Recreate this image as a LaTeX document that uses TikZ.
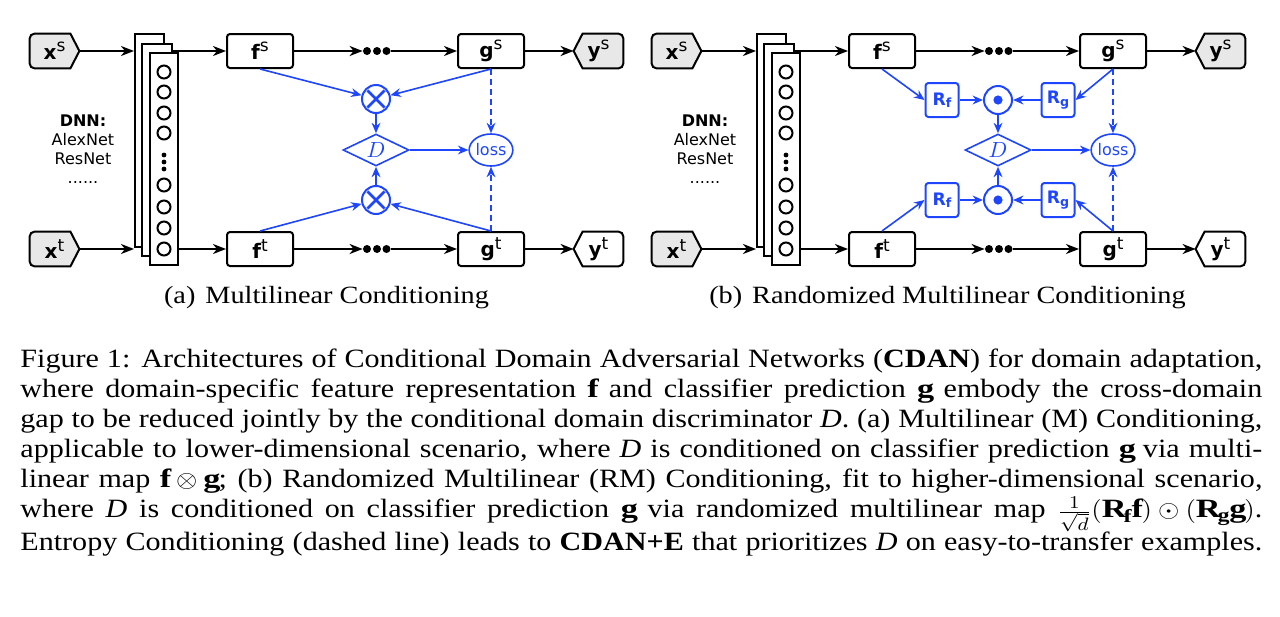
\documentclass[tikz,border=0pt]{standalone}
\usepackage{fontspec}
\setmainfont{Liberation Serif}[FakeStretch=1.14]
\newfontfamily\dv{DejaVu Sans}
\usetikzlibrary{shapes.geometric,arrows.meta,backgrounds}
\definecolor{cblue}{RGB}{30,70,255}
\definecolor{cgray}{RGB}{232,232,232}
\newcommand\mylbl[2]{{\bfseries #1}\raisebox{3.8pt}{\fontsize{8.5}{8.5}\selectfont #2}}
\newcommand\myrlbl[1]{{\bfseries R}\raisebox{-1.2pt}{\fontsize{6.3}{6.3}\selectfont\bfseries #1}}
\newcommand\mth[1]{\scalebox{1.14}[1]{$#1$}}
\begin{document}
\begin{tikzpicture}[x=0.5pt,y=-0.5pt,
  arr/.style={line width=1pt,-{Stealth[length=6.5pt,width=5pt,inset=2pt]}},
  barr/.style={cblue,line width=0.8pt,-{Stealth[length=5.2pt,width=4.4pt,inset=1.7pt]}},
  bdash/.style={barr,dash pattern=on 3pt off 2pt},
  io/.style={minimum width=24.5pt, minimum height=17pt, inner sep=0pt, font=\dv\fontsize{10}{12}\selectfont},
  ioshape/.style={draw, line width=1pt},
  box/.style={draw, rounded corners=1.5pt, line width=1pt, minimum width=33pt, minimum height=17pt, inner sep=0pt, font=\dv\fontsize{10}{12}\selectfont},
  layer/.style={draw, fill=white, line width=1pt, inner sep=0pt},
  neuron/.style={circle, draw, line width=1pt, minimum size=6.5pt, inner sep=0pt},
  sdot/.style={circle, fill, minimum size=2.4pt, inner sep=0pt},
  bdot/.style={circle, fill, minimum size=4pt, inner sep=0pt},
  mult/.style={circle, draw=cblue, line width=1pt, minimum size=14pt, inner sep=0pt},
  otimes/.style={mult, path picture={\draw[cblue,line width=1.3pt]
      ([shift={(-4.3pt,-4.3pt)}]path picture bounding box.center) -- ([shift={(4.3pt,4.3pt)}]path picture bounding box.center)
      ([shift={(-4.3pt,4.3pt)}]path picture bounding box.center) -- ([shift={(4.3pt,-4.3pt)}]path picture bounding box.center);}},
  odot/.style={mult, path picture={\fill[cblue] (path picture bounding box.center) circle[radius=2.3pt];}},
  disc/.style={diamond, draw=cblue, line width=0.8pt, minimum width=33pt, minimum height=16pt, aspect=2, inner sep=0pt, text=cblue, font=\fontsize{10.5}{10.5}\selectfont},
  lossn/.style={ellipse, draw=cblue, line width=0.8pt, minimum width=20pt, minimum height=16pt, inner sep=0pt, text=cblue, font=\dv\fontsize{8}{8}\selectfont},
  rbox/.style={draw=cblue, rounded corners=1.5pt, line width=1pt, minimum width=16.5pt, minimum height=17pt, inner sep=0pt, text=cblue, font=\dv\fontsize{8.6}{8.6}\selectfont},
  dnn/.style={align=center, font=\dv\fontsize{8}{9.5}\selectfont},
  sub/.style={font=\fontsize{12.4}{15}\selectfont}
]
\useasboundingbox (0,0) rectangle (1280,616);

\foreach \p/\dx in {a/0,b/622}{
  \node[io] (\p xs) at (\dx+54.5,51) {\mylbl{x}{s}};
  \node[io] (\p xt) at (\dx+54.5,249) {\mylbl{x}{t}};
  \node[io] (\p ys) at (\dx+598.5,51) {\mylbl{y}{s}};
  \node[io] (\p yt) at (\dx+598.5,249) {\mylbl{y}{t}};
  \begin{scope}[on background layer]
    \foreach \n in {xs,xt}
      \draw[ioshape, fill=cgray] ([xshift=-4.5pt]\p\n.north east) [rounded corners=2.5pt] -- (\p\n.north west) -- (\p\n.south west) [sharp corners] -- ([xshift=-4.5pt]\p\n.south east) -- (\p\n.east) -- cycle;
    \draw[ioshape, fill=cgray] ([xshift=4.5pt]\p ys.south west) [rounded corners=2.5pt] -- (\p ys.south east) -- (\p ys.north east) [sharp corners] -- ([xshift=4.5pt]\p ys.north west) -- (\p ys.west) -- cycle;
    \draw[ioshape, fill=white] ([xshift=4.5pt]\p yt.south west) [rounded corners=2.5pt] -- (\p yt.south east) -- (\p yt.north east) [sharp corners] -- ([xshift=4.5pt]\p yt.north west) -- (\p yt.west) -- cycle;
  \end{scope}
  \node[dnn] (\p dnn) at (\dx+83,149) {\textbf{DNN:}\\AlexNet\\ResNet\\......};
  \node[layer, minimum width=14.5pt, minimum height=106.5pt] (\p L1) at (\dx+149.5,140.5) {};
  \node[layer, minimum width=15pt, minimum height=106pt] (\p L2) at (\dx+157,150) {};
  \node[layer, minimum width=14pt, minimum height=106pt] (\p L3) at (\dx+164,159) {};
  \foreach \i/\yy in {1/72,2/92,3/113,4/133,5/185,6/207,7/228,8/249}
    \node[neuron] (\p n\i) at (\dx+164,\yy) {};
  \foreach \i/\yy in {1/155,2/162,3/169}
    \node[sdot] (\p s\i) at (\dx+164,\yy) {};
  \node[box] (\p fs) at (\dx+260,51) {\mylbl{f}{s}};
  \node[box] (\p ft) at (\dx+260,249) {\mylbl{f}{t}};
  \node[bdot] (\p da1) at (\dx+367,51) {};
  \node[bdot] (\p da2) at (\dx+377,51) {};
  \node[bdot] (\p da3) at (\dx+386.5,51) {};
  \node[bdot] (\p db1) at (\dx+367,249) {};
  \node[bdot] (\p db2) at (\dx+377,249) {};
  \node[bdot] (\p db3) at (\dx+386.5,249) {};
  \node[box] (\p gs) at (\dx+491,51) {\mylbl{g}{s}};
  \node[box] (\p gt) at (\dx+491,249) {\mylbl{g}{t}};
  \draw[arr] (\p xs.east) -- (\p xs.east -| \p L1.west);
  \draw[arr] (\p xt.east) -- (\p xt.east -| \p L1.west);
  \draw[arr] (\p fs.west -| \p L2.east) -- (\p fs.west);
  \draw[arr] (\p ft.west -| \p L3.east) -- (\p ft.west);
  \draw[arr] (\p fs.east) -- (\p da1.west);
  \draw[arr] (\p ft.east) -- (\p db1.west);
  \draw[arr] (\p da3.east) -- (\p gs.west);
  \draw[arr] (\p db3.east) -- (\p gt.west);
  \draw[arr] (\p gs.east) -- (\p ys.west);
  \draw[arr] (\p gt.east) -- (\p yt.west);
}

% (a) multilinear conditioning
\node[otimes] (am1) at (376,99) {};
\node[otimes] (am2) at (376,200) {};
\node[disc] (aD) at (376,150) {$D$};
\node[lossn] (aloss) at (491,150) {loss};
\draw[barr] (afs.south) -- (am1);
\draw[barr] (ags.south) -- (am1);
\draw[barr] (aft.north) -- (am2);
\draw[barr] (agt.north) -- (am2);
\draw[barr] (am1.south) -- (aD.north);
\draw[barr] (am2.north) -- (aD.south);
\draw[barr] (aD.east) -- (aloss.west);
\draw[bdash] (ags.south) -- (aloss.north);
\draw[bdash] (agt.north) -- (aloss.south);

% (b) randomized multilinear conditioning
\node[rbox] (bRf1) at (942,100) {\myrlbl{f}};
\node[odot] (bo1) at (998,100) {};
\node[rbox] (bRg1) at (1058,100) {\myrlbl{g}};
\node[rbox] (bRf2) at (942,200) {\myrlbl{f}};
\node[odot] (bo2) at (998,200) {};
\node[rbox] (bRg2) at (1058,200) {\myrlbl{g}};
\node[disc] (bD) at (998,150) {$D$};
\node[lossn] (bloss) at (1113,150) {loss};
\draw[barr] (bfs.south) -- (bRf1.west);
\draw[barr] (bft.north) -- (bRf2.west);
\draw[barr] (bgs.south) -- (bRg1.east);
\draw[barr] (bgt.north) -- (bRg2.east);
\draw[barr] (bRf1.east) -- (bo1.west);
\draw[barr] (bRg1.west) -- (bo1.east);
\draw[barr] (bRf2.east) -- (bo2.west);
\draw[barr] (bRg2.west) -- (bo2.east);
\draw[barr] (bo1.south) -- (bD.north);
\draw[barr] (bo2.north) -- (bD.south);
\draw[barr] (bD.east) -- (bloss.west);
\draw[bdash] (bgs.south) -- (bloss.north);
\draw[bdash] (bgt.north) -- (bloss.south);

% sub-captions
\node[sub, anchor=base] (capa) at (326.5,303) {(a)\hspace{5pt}Multilinear Conditioning};
\node[sub, anchor=base] (capb) at (947.5,303) {(b)\hspace{5pt}Randomized Multilinear Conditioning};

% caption
\node[anchor=north west, inner sep=0pt] (cap) at (20,349) {\vbox{\fontsize{13.2}{15}\selectfont\baselineskip=15pt\lineskiplimit=-3pt
\hbox to 621pt{Figure 1: Architectures of Conditional Domain Adversarial Networks (\textbf{CDAN}) for domain adaptation,}
\hbox to 621pt{where domain-specific feature representation \mth{\mathbf{f}} and classifier prediction \mth{\mathbf{g}} embody the cross-domain}
\hbox to 621pt{gap to be reduced jointly by the conditional domain discriminator \textit{D}. (a) Multilinear (M) Conditioning,}
\hbox to 621pt{applicable to lower-dimensional scenario, where \textit{D} is conditioned on classifier prediction \mth{\mathbf{g}} via multi-}
\hbox to 621pt{linear map \mth{\mathbf{f}\otimes\mathbf{g}}; (b) Randomized Multilinear (RM) Conditioning, fit to higher-dimensional scenario,}
\hbox to 621pt{where \textit{D} is conditioned on classifier prediction \mth{\mathbf{g}} via randomized multilinear map \mth{\frac{1}{\sqrt{d}}(\mathbf{R}_\mathbf{f}\mathbf{f})\odot(\mathbf{R}_\mathbf{g}\mathbf{g})}.}
\vskip 1.5pt
\hbox to 621pt{Entropy Conditioning (dashed line) leads to \textbf{CDAN+E} that prioritizes \textit{D} on easy-to-transfer examples.}
}};
\end{tikzpicture}
\end{document}
